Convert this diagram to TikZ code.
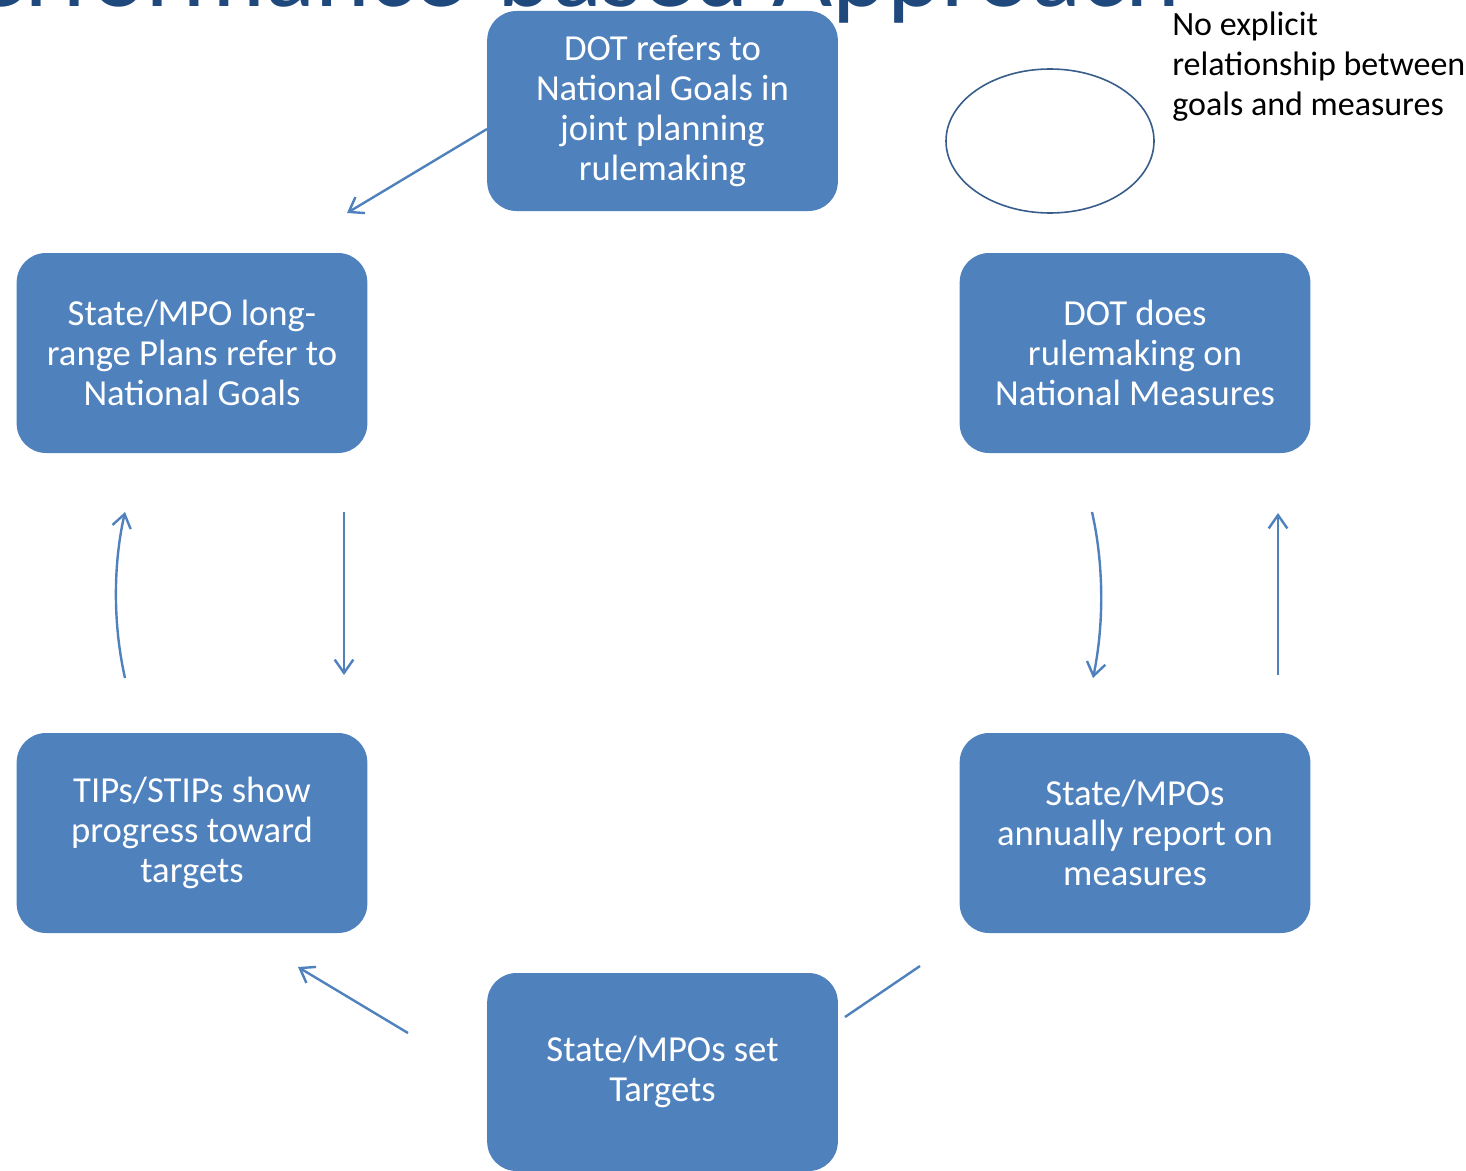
\documentclass[tikz,border=0pt]{standalone}
\usepackage{fontspec}
\setmainfont{Carlito}
\usetikzlibrary{arrows.meta,shapes.geometric}
\definecolor{boxblue}{HTML}{4F81BD}
\definecolor{titleblue}{HTML}{1F497D}
\definecolor{ringblue}{HTML}{385D8A}
\begin{document}
\begin{tikzpicture}[x=0.75pt,y=-0.75pt,
  stepbox/.style={fill=boxblue, rounded corners=22pt, minimum width=263pt,
    minimum height=150pt, text=white, align=center, inner sep=0pt,
    font=\fontsize{27.5}{30}\selectfont},
  link/.style={draw=boxblue, line width=1.8pt},
  conn/.style={link, -{Straight Barb[length=10pt,width=14pt,line width=1.8pt]}},
  ]
\useasboundingbox (0,0) rectangle (1466,1170);
\clip (0,0) rectangle (1466,1170);
% cut-off title
\node[anchor=base east, text=titleblue, inner sep=0pt,
  font=\fontsize{78}{80}\selectfont] (title) at (1180,7) {Performance-based Approach};
% boxes
\node[stepbox] (top) at (662.5,111) {DOT refers to\\National Goals in\\joint planning\\rulemaking};
\node[stepbox] (lp)  at (192,353) {State/MPO long-\\range Plans refer to\\National Goals};
\node[stepbox] (rm)  at (1135,353) {DOT does\\rulemaking on\\National Measures};
\node[stepbox] (tip) at (192,833) {TIPs/STIPs show\\progress toward\\targets};
\node[stepbox] (rep) at (1135,833) {State/MPOs\\annually report on\\measures};
\node[stepbox, minimum height=148.5pt] (tgt) at (662.5,1072) {State/MPOs set\\Targets};
% ellipse and note
\node[draw=ringblue, line width=1.2pt, ellipse, minimum width=156pt, minimum height=108pt, inner sep=0pt] (ring) at (1050,141) {};
\node[anchor=north west, align=left, inner sep=0pt, text=black,
  font=\fontsize{25.5}{30}\selectfont] (note) at (1172,12) {No explicit\\relationship between\\goals and measures};
% connector end points
\coordinate (a1s) at (487,129);  \coordinate (a1e) at (347,213);
\coordinate (a2s) at (125,678);  \coordinate (a2e) at (125,512);
\coordinate (a3s) at (344,512);  \coordinate (a3e) at (344,675);
\coordinate (a4s) at (1092,512); \coordinate (a4e) at (1093,678);
\coordinate (a5s) at (1278,675); \coordinate (a5e) at (1278,513);
\coordinate (a6s) at (845,1017); \coordinate (a6e) at (920,966);
\coordinate (a7s) at (408,1033); \coordinate (a7e) at (298,967);
% connectors
\draw[conn] (a1s) -- (a1e);
\draw[conn] (a2s) .. controls (113,625) and (113,565) .. (a2e);
\draw[conn] (a3s) -- (a3e);
\draw[conn] (a4s) .. controls (1104,565) and (1104,625) .. (a4e);
\draw[conn] (a5s) -- (a5e);
\draw[link] (a6s) -- (a6e);
\draw[conn] (a7s) -- (a7e);
\end{tikzpicture}
\end{document}
